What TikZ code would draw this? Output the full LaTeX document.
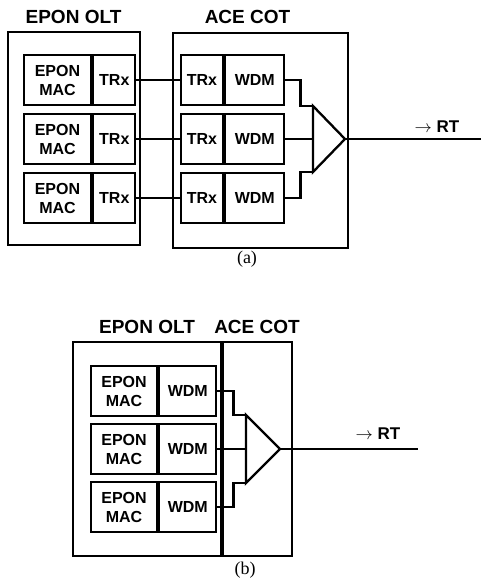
\documentclass[tikz,border=0pt]{standalone}
\usepackage{fontspec}
\setmainfont{Liberation Sans}
\newfontfamily\capfont{Liberation Serif}
\usetikzlibrary{positioning}
\tikzset{
  frame/.style={draw, line width=2.3pt, inner sep=0pt},
  cell/.style={draw, line width=2.3pt, minimum height=50pt, align=center,
    inner sep=0pt, font=\fontsize{16}{19}\selectfont\bfseries},
  title/.style={font=\fontsize{19}{22}\selectfont\bfseries},
  caption/.style={font=\capfont\fontsize{18}{20}\selectfont},
  wire/.style={line width=2.3pt, line join=miter}
}
\begin{document}
\begin{tikzpicture}[x=1pt, y=-1pt, node distance=0pt,
    mac/.style={cell, minimum width=67pt},
    trx/.style={cell, minimum width=42pt},
    wdm/.style={cell, minimum width=59pt},
]
\useasboundingbox (0,0) rectangle (481,587);

% ---------- (a)
\node (oltA) [frame, minimum width=132pt, minimum height=213pt] at (74,138.5) {};
\node (cotA) [frame, minimum width=175pt, minimum height=215pt] at (260.5,140.5) {};
\node (oltAt) [title] at (73.5,17) {EPON OLT};
\node (cotAt) [title] at (247.5,17) {ACE COT};

\node (macA1) [mac] at (57.5,80)  {EPON\\MAC};
\node (macA2) [mac] at (57.5,139) {EPON\\MAC};
\node (macA3) [mac] at (57.5,198) {EPON\\MAC};
\node (trxA1) [trx, right=of macA1] {TRx};
\node (trxA2) [trx, right=of macA2] {TRx};
\node (trxA3) [trx, right=of macA3] {TRx};

\node (trxB1) [trx] at (202,80)  {TRx};
\node (trxB2) [trx] at (202,139) {TRx};
\node (trxB3) [trx] at (202,198) {TRx};
\node (wdmA1) [wdm, right=of trxB1] {WDM};
\node (wdmA2) [wdm, right=of trxB2] {WDM};
\node (wdmA3) [wdm, right=of trxB3] {WDM};

\coordinate (combAtop) at (313,106);
\coordinate (combAmid) at (313,139);
\coordinate (combAbot) at (313,172);
\coordinate (combAout) at (345,139);
\coordinate (rtA) at (481,139);
\draw[wire] (combAtop) -- (combAout) -- (combAbot) -- cycle;

\draw[wire] (trxA1) -- (trxB1);
\draw[wire] (trxA2) -- (trxB2);
\draw[wire] (trxA3) -- (trxB3);
\draw[wire] (wdmA1.east) -- ++(15,0) |- (combAtop);
\draw[wire] (wdmA2) -- (combAmid);
\draw[wire] (wdmA3.east) -- ++(15,0) |- (combAbot);
\draw[wire] (combAout) -- (rtA);
\node (rtAt) [font=\fontsize{17}{20}\selectfont\bfseries] at (437,127)
      {{\normalfont$\rightarrow$}~RT};
\node (capA) [caption] at (247,259) {(a)};

% ---------- (b)
\node (boxB) [frame, minimum width=219pt, minimum height=214pt] at (182.5,449) {};
\draw[line width=3.2pt] (222,342) -- (222,556);
\node (oltBt) [title] at (147,327) {EPON OLT};
\node (cotBt) [title] at (257,327) {ACE COT};

\node (macB1) [mac, minimum width=66pt] at (124,391) {EPON\\MAC};
\node (macB2) [mac, minimum width=66pt] at (124,449) {EPON\\MAC};
\node (macB3) [mac, minimum width=66pt] at (124,507) {EPON\\MAC};
\node (wdmB1) [wdm, minimum width=57pt, right=of macB1] {WDM};
\node (wdmB2) [wdm, minimum width=57pt, right=of macB2] {WDM};
\node (wdmB3) [wdm, minimum width=57pt, right=of macB3] {WDM};

\coordinate (combBtop) at (246,415);
\coordinate (combBmid) at (246,449);
\coordinate (combBbot) at (246,483);
\coordinate (combBout) at (280,449);
\coordinate (rtB) at (418,449);
\draw[wire] (combBtop) -- (combBout) -- (combBbot) -- cycle;

\draw[wire] (wdmB1.east) -- ++(16,0) |- (combBtop);
\draw[wire] (wdmB2) -- (combBmid);
\draw[wire] (wdmB3.east) -- ++(16,0) |- (combBbot);
\draw[wire] (combBout) -- (rtB);
\node (rtBt) [font=\fontsize{17}{20}\selectfont\bfseries] at (378,434)
      {{\normalfont$\rightarrow$}~RT};
\node (capB) [caption] at (245,570) {(b)};
\end{tikzpicture}
\end{document}
